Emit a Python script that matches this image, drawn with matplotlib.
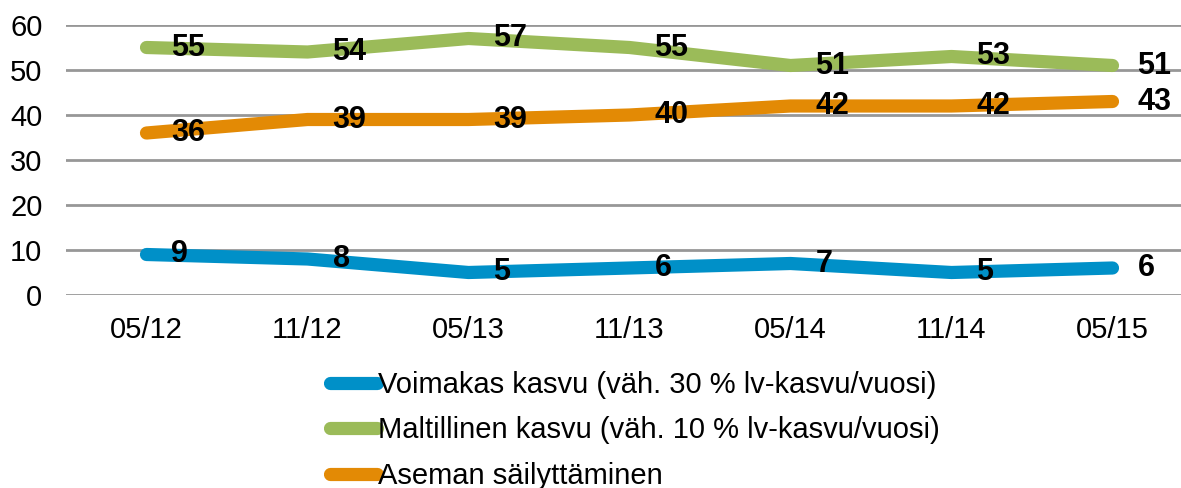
import matplotlib.pyplot as plt

plt.rcParams['font.family'] = ['Liberation Sans', 'DejaVu Sans']

periods = ['05/12', '11/12', '05/13', '11/13', '05/14', '11/14', '05/15']
voimakas = [9, 8, 5, 6, 7, 5, 6]
maltillinen = [55, 54, 57, 55, 51, 53, 51]
asema = [36, 39, 39, 40, 42, 42, 43]

names = ['Voimakas kasvu (väh. 30 % lv-kasvu/vuosi)',
         'Maltillinen kasvu (väh. 10 % lv-kasvu/vuosi)',
         'Aseman säilyttäminen']
colors = ['#0090C8', '#9BBB59', '#E38A05']

W, H = 1181, 488
fig = plt.figure(figsize=(W / 100, H / 100), dpi=100)
ax = fig.add_axes([66 / W, 1 - 295 / H, 1127 / W, 270 / H])

x = range(len(periods))
for vals, name, c in zip([voimakas, maltillinen, asema], names, colors):
    ax.plot(x, vals, color=c, lw=9.5, solid_capstyle='round', solid_joinstyle='round', label=name)
    for i, v in enumerate(vals):
        ax.annotate(str(v), (i, v), xytext=(18, 0), textcoords='offset points',
                    ha='left', va='center', fontsize=22, fontweight='bold', color='black')

ax.set_xlim(-0.5, 6.5)
ax.set_ylim(0, 60)
ax.set_yticks(range(0, 61, 10))
ax.set_xticks(list(x))
ax.set_xticklabels(periods)
ax.tick_params(length=0, labelsize=21)
ax.tick_params(axis='x', pad=15)
ax.tick_params(axis='y', pad=17)
ax.grid(axis='y', color='#979797', lw=2)
ax.set_axisbelow(True)
for s in ax.spines.values():
    s.set_visible(False)

fig.legend(loc='upper left', bbox_to_anchor=(330 / W, 1 - 371 / H), frameon=False,
           fontsize=21, handlelength=1.6, handletextpad=0.05, labelspacing=0.6,
           borderpad=0, borderaxespad=0)

fig.savefig('out.png', dpi=100)
